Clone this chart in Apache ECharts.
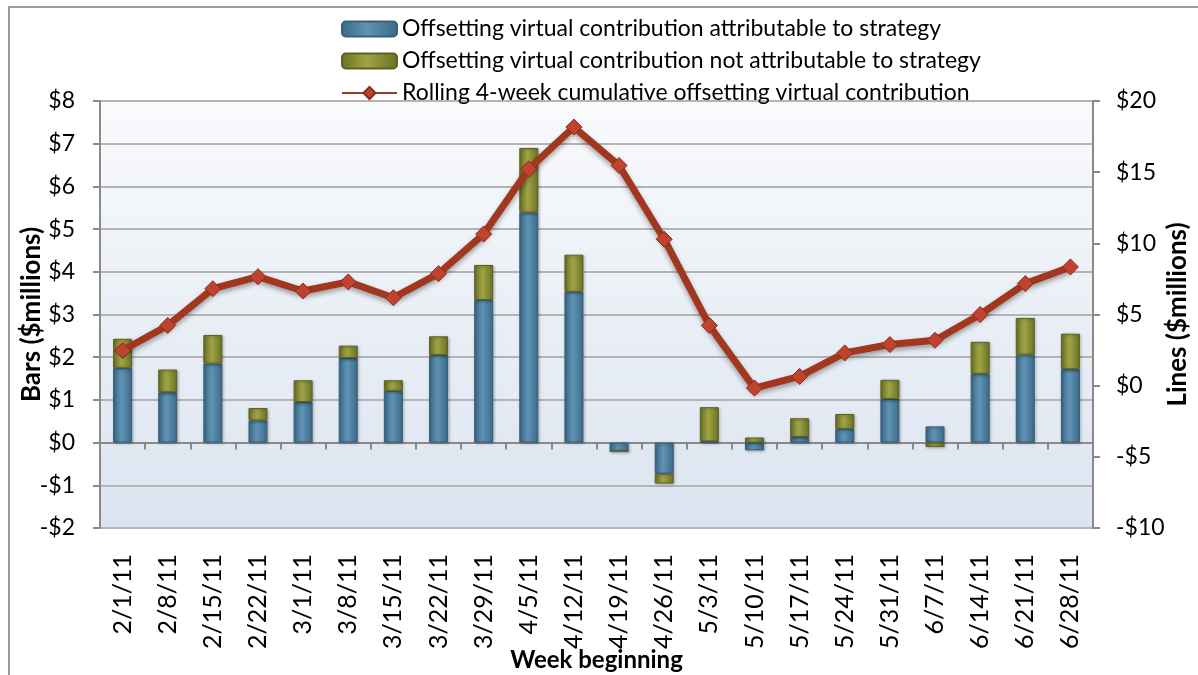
<html lang="en">
<head>
    <meta charset="UTF-8">
    <title>Offsetting virtual contribution</title>
    <script src="https://cdn.jsdelivr.net/npm/echarts@6/dist/echarts.min.js"></script>
</head>
<body style="margin:0;background:#fff;">
    <div id="main" style="width: 1198px;height:675px;"></div>
    <script type="text/javascript">
        // week labels
        var weeks = ['2/1/11', '2/8/11', '2/15/11', '2/22/11', '3/1/11', '3/8/11', '3/15/11', '3/22/11',
            '3/29/11', '4/5/11', '4/12/11', '4/19/11', '4/26/11', '5/3/11', '5/10/11', '5/17/11',
            '5/24/11', '5/31/11', '6/7/11', '6/14/11', '6/21/11', '6/28/11'];
        // bars, $ millions (left axis)
        var attributable = [1.75, 1.18, 1.85, 0.52, 0.95, 1.98, 1.21, 2.05, 3.34, 5.39, 3.53, -0.20,
            -0.73, 0.03, -0.18, 0.13, 0.32, 1.02, 0.38, 1.61, 2.06, 1.72];
        var notAttributable = [0.68, 0.53, 0.67, 0.29, 0.51, 0.29, 0.25, 0.44, 0.82, 1.51, 0.87, 0,
            -0.23, 0.80, 0.12, 0.44, 0.35, 0.45, -0.10, 0.75, 0.86, 0.83];
        // line, $ millions (right axis)
        var rolling4wk = [2.47, 4.23, 6.81, 7.66, 6.65, 7.29, 6.18, 7.87, 10.65, 15.23, 18.17, 15.47,
            10.29, 4.23, -0.17, 0.65, 2.30, 2.89, 3.19, 5.00, 7.17, 8.34];

        var seriesNames = ['Offsetting virtual contribution attributable to strategy',
            'Offsetting virtual contribution not attributable to strategy',
            'Rolling 4-week cumulative offsetting virtual contribution'];

        var FONT = 'Lato';

        function money(v) {
            return v < 0 ? '-$' + Math.abs(v) : '$' + v;
        }

        function hGrad(edge, mid) {
            return new echarts.graphic.LinearGradient(0, 0, 1, 0, [
                { offset: 0, color: edge },
                { offset: 0.45, color: mid },
                { offset: 1, color: edge }
            ]);
        }

        var nameStyle = { fontFamily: FONT, fontSize: 26, fontWeight: 'bold', color: '#000' };

        var myChart = echarts.init(document.getElementById('main'));

        var option = {
            animation: false,
            textStyle: { fontFamily: FONT },
            graphic: [{
                type: 'rect',
                shape: { x: 9, y: 7, width: 1200, height: 680 },
                style: { fill: 'none', stroke: '#9a9a9a', lineWidth: 2 },
                z: -1
            }],
            legend: {
                orient: 'vertical',
                left: 336,
                top: 12,
                itemWidth: 55,
                itemHeight: 15,
                itemGap: 8,
                data: seriesNames,
                textStyle: { fontFamily: FONT, fontSize: 23, color: '#000', lineHeight: 24 }
            },
            grid: {
                left: 100,
                right: 105,
                top: 101,
                bottom: 147,
                outerBoundsMode: 'none',
                containLabel: false,
                show: true,
                borderWidth: 0,
                backgroundColor: new echarts.graphic.LinearGradient(0, 0, 0, 1, [
                    { offset: 0, color: '#f9fafc' },
                    { offset: 1, color: '#dbe4f0' }
                ])
            },
            xAxis: [{
                type: 'category',
                data: weeks,
                position: 'bottom',
                axisLine: { onZero: true, onZeroAxisIndex: 0, lineStyle: { color: '#8a8a8a', width: 2 } },
                axisTick: { show: true, interval: 0, length: 7, lineStyle: { color: '#8a8a8a', width: 2 } },
                axisLabel: { show: false }
            }, {
                type: 'category',
                data: weeks,
                position: 'bottom',
                axisLine: { show: false, onZero: false },
                axisTick: { show: false },
                axisLabel: {
                    interval: 0,
                    rotate: 90,
                    margin: 26,
                    fontFamily: FONT,
                    fontSize: 25,
                    color: '#000'
                },
                name: 'Week beginning',
                nameLocation: 'middle',
                nameMoveOverlap: false,
                nameGap: 120,
                nameTextStyle: { fontFamily: FONT, fontSize: 24, fontWeight: 'bold', color: '#000' }
            }],
            yAxis: [{
                type: 'value',
                min: -2,
                max: 8,
                interval: 1,
                position: 'left',
                name: 'Bars ($millions)',
                nameLocation: 'middle',
                nameRotate: 90,
                nameMoveOverlap: false,
                nameGap: 55,
                nameTextStyle: nameStyle,
                axisLine: { show: true, lineStyle: { color: '#8a8a8a', width: 2 } },
                axisTick: { show: true, length: 7, lineStyle: { color: '#8a8a8a', width: 2 } },
                axisLabel: { formatter: money, margin: 25, fontFamily: FONT, fontSize: 23, color: '#000' },
                splitLine: { lineStyle: { color: '#b4b4b4', width: 2 } }
            }, {
                type: 'value',
                min: -10,
                max: 20,
                interval: 5,
                position: 'right',
                name: 'Lines ($millions)',
                nameLocation: 'middle',
                nameRotate: 90,
                nameMoveOverlap: false,
                nameGap: 72,
                nameTextStyle: nameStyle,
                axisLine: { show: true, lineStyle: { color: '#8a8a8a', width: 2 } },
                axisTick: { show: true, length: 7, lineStyle: { color: '#8a8a8a', width: 2 } },
                axisLabel: { formatter: money, margin: 23, fontFamily: FONT, fontSize: 23, color: '#000' },
                splitLine: { show: false }
            }],
            series: [{
                name: seriesNames[0],
                type: 'bar',
                stack: 'bars',
                barWidth: 19,
                xAxisIndex: 0,
                yAxisIndex: 0,
                data: attributable,
                itemStyle: {
                    color: hGrad('#3b6a89', '#5f93b4'),
                    borderColor: '#3a5f78',
                    borderWidth: 1,
                    shadowBlur: 3,
                    shadowColor: 'rgba(0,0,0,0.3)',
                    shadowOffsetX: 1,
                    shadowOffsetY: 1
                }
            }, {
                name: seriesNames[1],
                type: 'bar',
                stack: 'bars',
                barWidth: 19,
                xAxisIndex: 0,
                yAxisIndex: 0,
                data: notAttributable,
                itemStyle: {
                    color: hGrad('#6c7126', '#a0a445'),
                    borderColor: '#5d6220',
                    borderWidth: 1,
                    shadowBlur: 3,
                    shadowColor: 'rgba(0,0,0,0.3)',
                    shadowOffsetX: 1,
                    shadowOffsetY: 1
                }
            }, {
                name: seriesNames[2],
                type: 'line',
                xAxisIndex: 0,
                yAxisIndex: 1,
                data: rolling4wk,
                symbol: 'diamond',
                symbolSize: 16,
                lineStyle: {
                    color: '#a2371f',
                    width: 7,
                    shadowBlur: 5,
                    shadowColor: 'rgba(0,0,0,0.35)',
                    shadowOffsetY: 3
                },
                itemStyle: {
                    color: '#c0432f',
                    borderColor: '#8c2a1a',
                    borderWidth: 1
                },
                z: 5
            }]
        };

        myChart.setOption(option);
    </script>
</body>
</html>
